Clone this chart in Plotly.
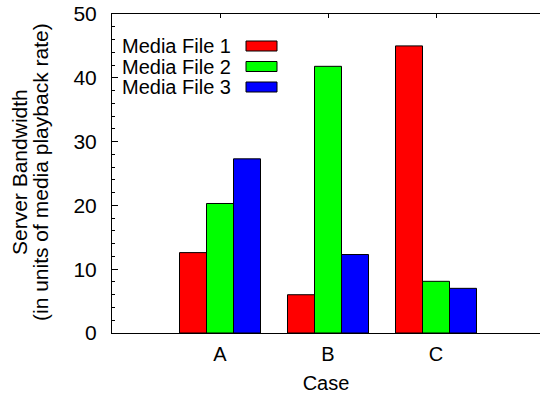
import plotly.graph_objects as go

categories = ["A", "B", "C"]
series_names = ["Media File 1", "Media File 2", "Media File 3"]
file1 = [12.6, 6.0, 45.0]
file2 = [20.3, 41.8, 8.1]
file3 = [27.3, 12.3, 7.0]
series_values = [file1, file2, file3]
colors = ["#ff0000", "#00ff00", "#0000ff"]
y_ticks = [0, 10, 20, 30, 40, 50]
y_title_lines = ["Server Bandwidth", "(in units of media playback rate)"]

FONT = "Liberation Sans, Arial, Helvetica, sans-serif"
FS = 20

fig = go.Figure()
xpos = list(range(len(categories)))
for name, vals, col in zip(series_names, series_values, colors):
    fig.add_trace(go.Bar(
        x=xpos, y=vals, name=name, marker=dict(color=col, line=dict(color="black", width=1)),
        showlegend=False,
    ))

W, H = 540, 395
L, R, T, B = 112, 0, 14, 62
pw, ph = W - L - R, H - T - B

fig.update_layout(
    width=W, height=H, autosize=False,
    margin=dict(l=L, r=R, t=T, b=B, pad=0),
    paper_bgcolor="white", plot_bgcolor="white",
    barmode="group", bargap=0.25, bargroupgap=0,
    font=dict(family=FONT, size=FS, color="black"),
    xaxis=dict(
        range=[-1, -1 + pw / 108.0], tickvals=xpos, ticktext=categories,
        showline=True, linecolor="black", linewidth=1, mirror="ticks",
        ticks="inside", ticklen=4, tickcolor="black", showgrid=False, zeroline=False,
        layer="below traces", ticklabelstandoff=3,
        title=dict(text="Case", font=dict(size=FS), standoff=11),
    ),
    yaxis=dict(
        range=[0, 50], tickvals=y_ticks, showline=True, linecolor="black", linewidth=1,
        ticks="inside", ticklen=6, tickcolor="black", showgrid=False, zeroline=False,
        minor=dict(dtick=2, ticks="inside", ticklen=3, tickcolor="black", showgrid=False),
        ticklabelstandoff=10, tickfont=dict(size=21),
    ),
    yaxis2=dict(
        overlaying="y", side="right", anchor="x", range=[0, 50], tickvals=y_ticks,
        ticks="inside", ticklen=3, tickcolor="black", showticklabels=False,
        showline=False, showgrid=False, zeroline=False,
    ),
)

# y-axis title (two lines, tight spacing)
for line, cx in zip(y_title_lines, [19, 40]):
    fig.add_annotation(
        text=line, textangle=-90,
        xref="paper", yref="paper", x=(cx - L) / pw, y=(H - B - 172) / ph,
        xanchor="center", yanchor="middle",
        showarrow=False, font=dict(size=21),
    )

# legend (text left, swatch right, gnuplot style)
row_y = [46, 66.5, 87]
for name, col, py in zip(series_names, colors, row_y):
    yp = (H - B - py) / ph
    fig.add_annotation(
        text=name, xref="paper", yref="paper", x=(233 - L) / pw, y=yp,
        xanchor="right", yanchor="middle", showarrow=False, font=dict(size=FS),
    )
    fig.add_shape(
        type="rect", xref="paper", yref="paper",
        x0=(246 - L) / pw, x1=(277 - L) / pw, y0=yp - 5 / ph, y1=yp + 5 / ph,
        fillcolor=col, line=dict(color="black", width=1),
    )

fig.write_html("out.html")
